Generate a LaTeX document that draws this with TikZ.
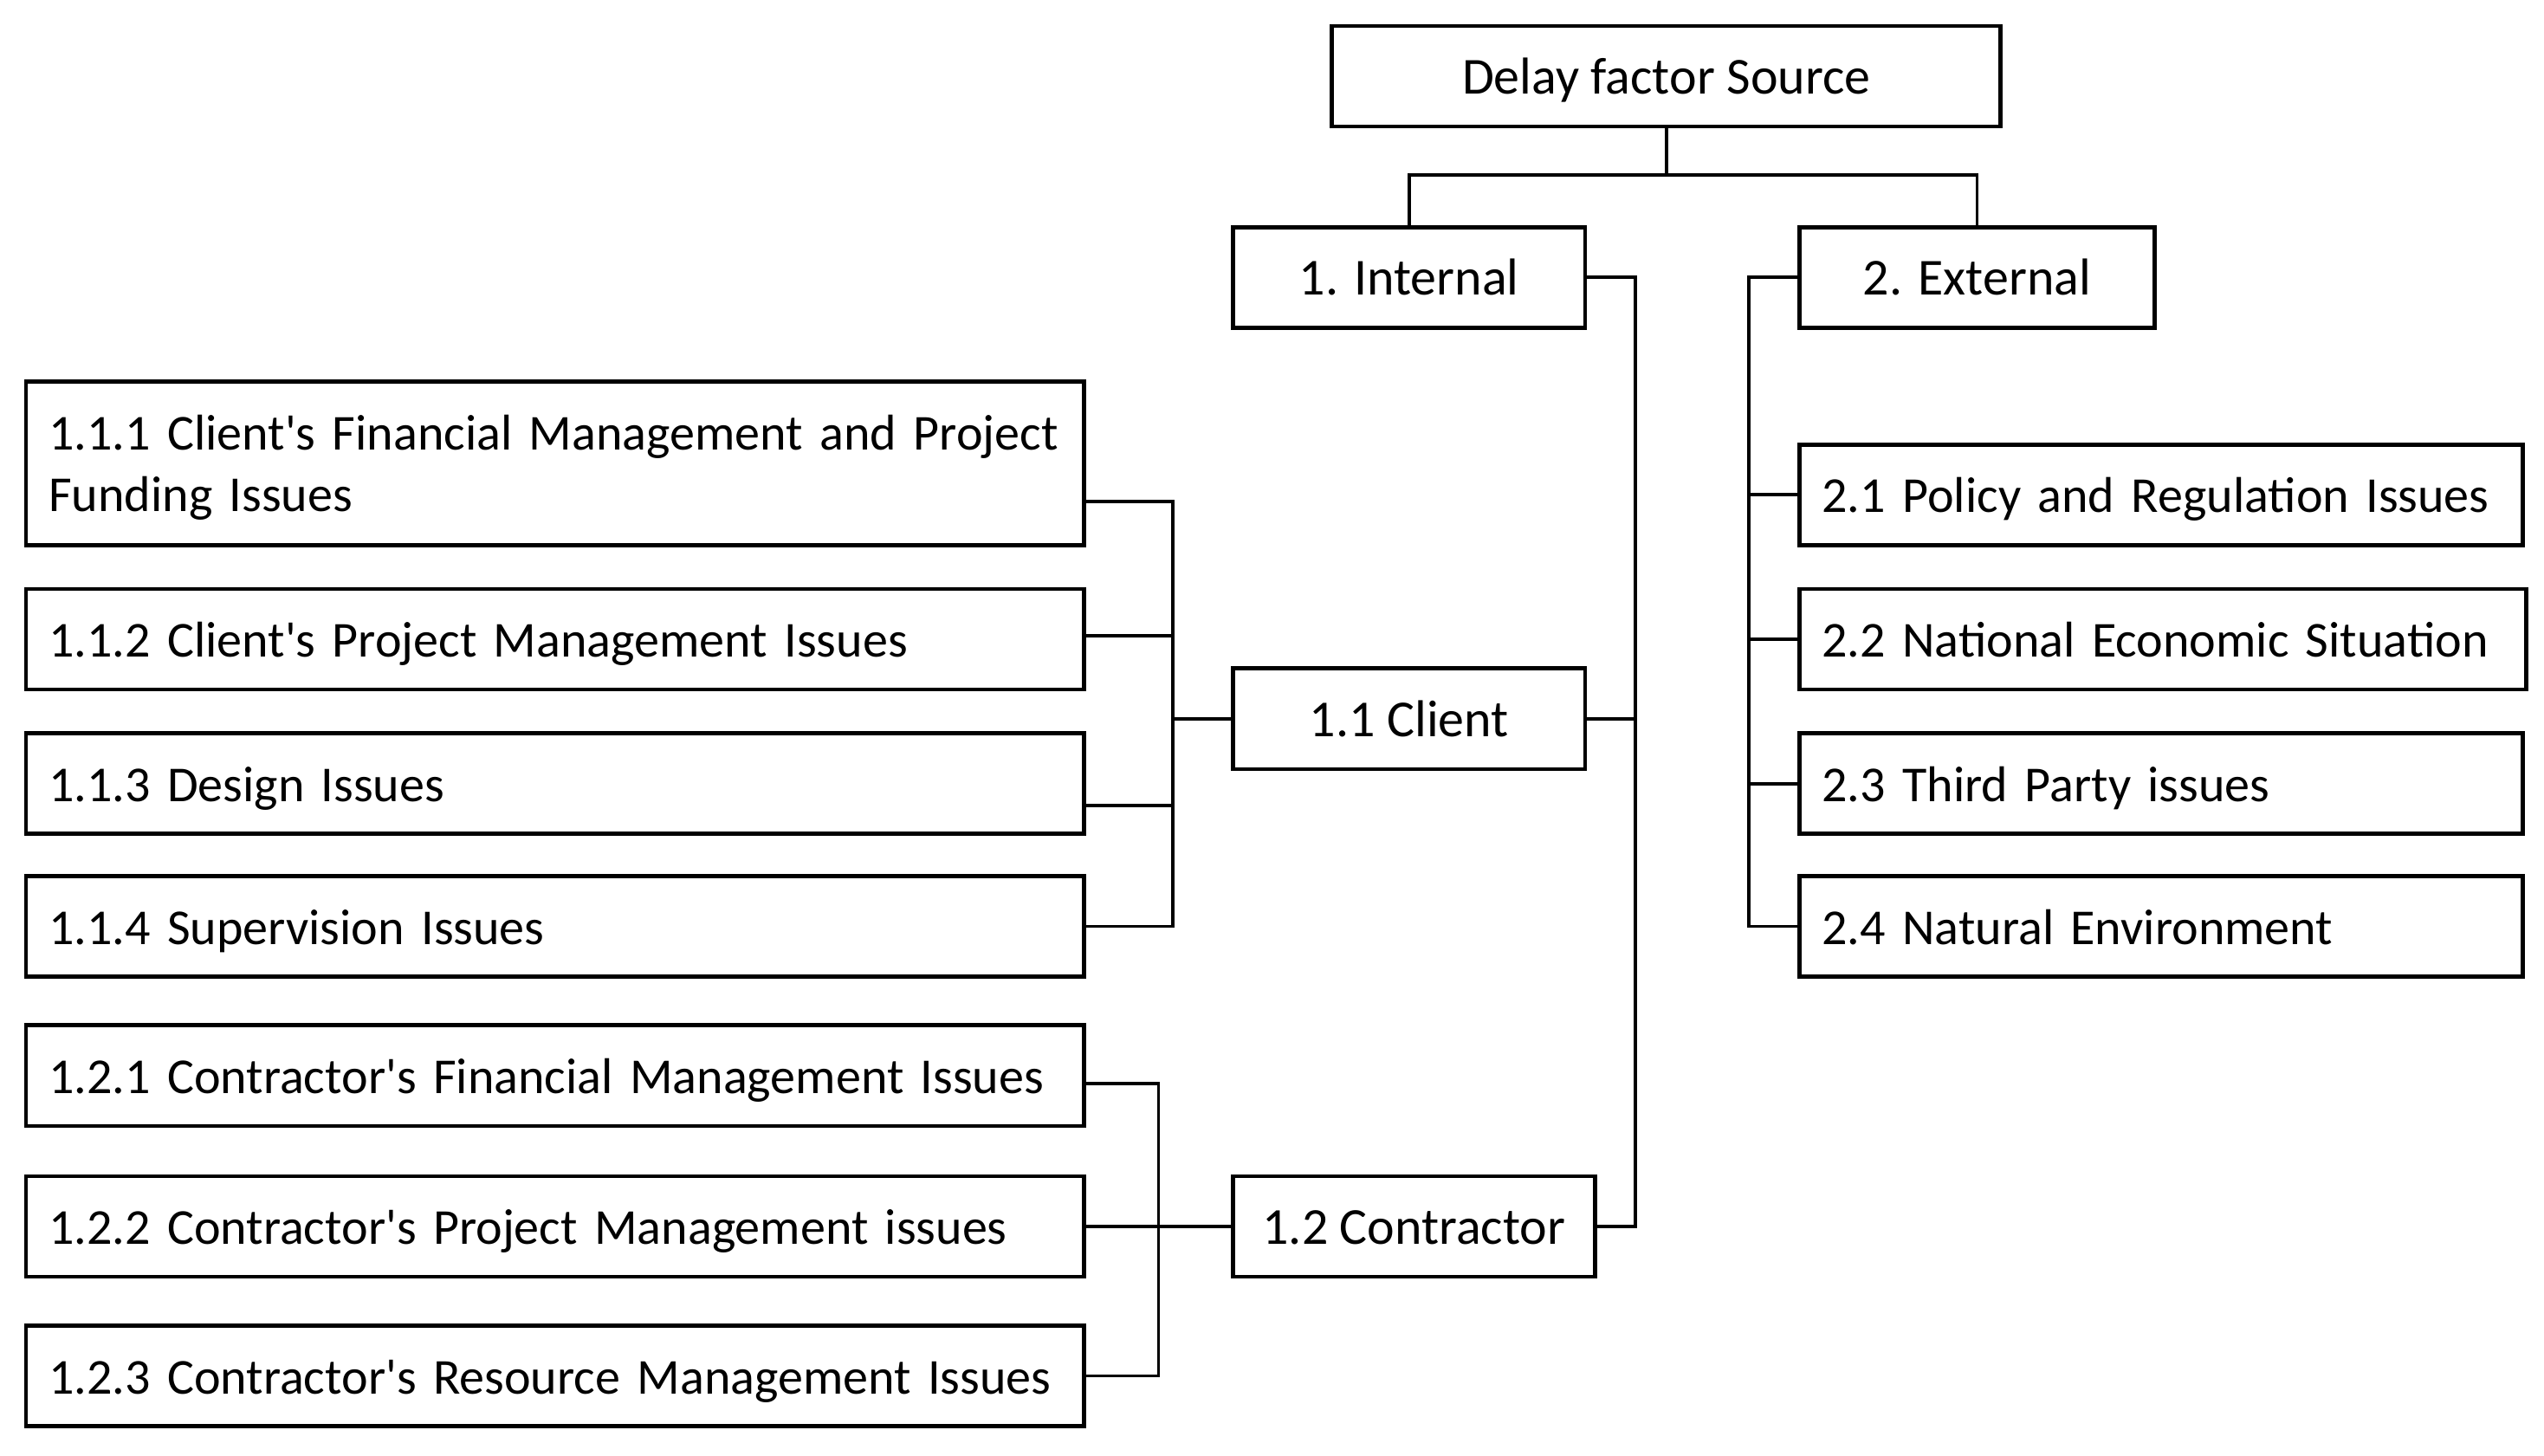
\documentclass[tikz,border=0pt]{standalone}
\usepackage{fontspec}
\setmainfont{Carlito}[Ligatures=TeXOff]
\begin{document}
\begin{tikzpicture}[x=1pt,y=-1pt,
  box/.style={draw, line width=2.5pt, inner sep=0pt, align=center,
    font=\fontsize{32}{39}\selectfont, text height=27pt, text depth=5pt},
  lbox/.style={box, align=left, inner xsep=14pt, inner ysep=0pt,
    font=\fontsize{31}{38}\selectfont},
  conn/.style={line width=2pt}]
\useasboundingbox (0,0) rectangle (1568,897);
% top
\node[box, minimum width=412pt, minimum height=62pt] (root) at (1027,47) {Delay factor Source};
\node[box, minimum width=217pt, minimum height=62pt] (int) at (868.5,171) {1. Internal};
\node[box, minimum width=219pt, minimum height=62pt] (ext) at (1218.5,171) {2. External};
% external children
\node[lbox, text width=418pt, minimum height=62pt] (e1) at (1332,305) {\mbox{2.1 Policy and Regulation Issues}};
\node[lbox, text width=420pt, minimum height=62pt] (e2) at (1333,394) {\mbox{2.2 National Economic Situation}};
\node[lbox, text width=418pt, minimum height=62pt] (e3) at (1332,483) {\mbox{2.3 Third Party issues}};
\node[lbox, text width=418pt, minimum height=62pt] (e4) at (1332,571) {\mbox{2.4 Natural Environment}};
% internal children
\node[box, minimum width=217pt, minimum height=62pt] (cli) at (868.5,443) {1.1 Client};
\node[box, minimum width=223pt, minimum height=62pt] (con) at (871.5,756) {1.2 Contractor};
% client children
\node[lbox, text width=624pt, text height=, text depth=, minimum height=101pt] (c1) at (342,285.5)
  {\mbox{\rule{0pt}{27pt}1.1.1 Client's Financial Management and Project}\\\mbox{Funding Issues}};
\node[lbox, text width=624pt, minimum height=62pt] (c2) at (342,394) {\mbox{1.1.2 Client's Project Management Issues}};
\node[lbox, text width=624pt, minimum height=62pt] (c3) at (342,483) {\mbox{1.1.3 Design Issues}};
\node[lbox, text width=624pt, minimum height=62pt] (c4) at (342,571) {\mbox{1.1.4 Supervision Issues}};
% contractor children
\node[lbox, text width=624pt, minimum height=62pt] (k1) at (342,663) {\mbox{1.2.1 Contractor's Financial Management Issues}};
\node[lbox, text width=624pt, minimum height=62pt] (k2) at (342,756) {\mbox{1.2.2 Contractor's Project Management issues}};
\node[lbox, text width=624pt, minimum height=62pt] (k3) at (342,848) {\mbox{1.2.3 Contractor's Resource Management Issues}};
% connectors
\coordinate (tb) at (1027,108);
\draw[conn] (root.south) -- (tb);
\draw[conn] (int.north) |- (tb) -| (ext.north);
\coordinate (ibus) at (1008,0);
\draw[conn] (int.east) -- (int.east -| ibus) |- (con.east);
\draw[conn] (cli.east) -- (cli.east -| ibus);
\coordinate (ebus) at (1078,0);
\draw[conn] (ext.west) -- (ext.west -| ebus) |- (e4.west);
\foreach \n in {e1,e2,e3} \draw[conn] (\n.west) -- (\n.west -| ebus);
\coordinate (cbus) at (723,0);
\coordinate (c1p) at ([yshift=-23.5pt]c1.east);
\coordinate (c2p) at ([yshift=2pt]c2.east);
\coordinate (c3p) at ([yshift=-13.5pt]c3.east);
\draw[conn] (c1p) -| (cbus |- c4.east) -- (c4.east);
\draw[conn] (c2p) -- (c2p -| cbus);
\draw[conn] (c3p) -- (c3p -| cbus);
\draw[conn] (cli.west) -- (cli.west -| cbus);
\coordinate (kbus) at (714,0);
\coordinate (k1p) at ([yshift=-5pt]k1.east);
\draw[conn] (k1p) -| (kbus |- k3.east) -- (k3.east);
\draw[conn] (k2.east) -- (con.west);
\end{tikzpicture}
\end{document}
